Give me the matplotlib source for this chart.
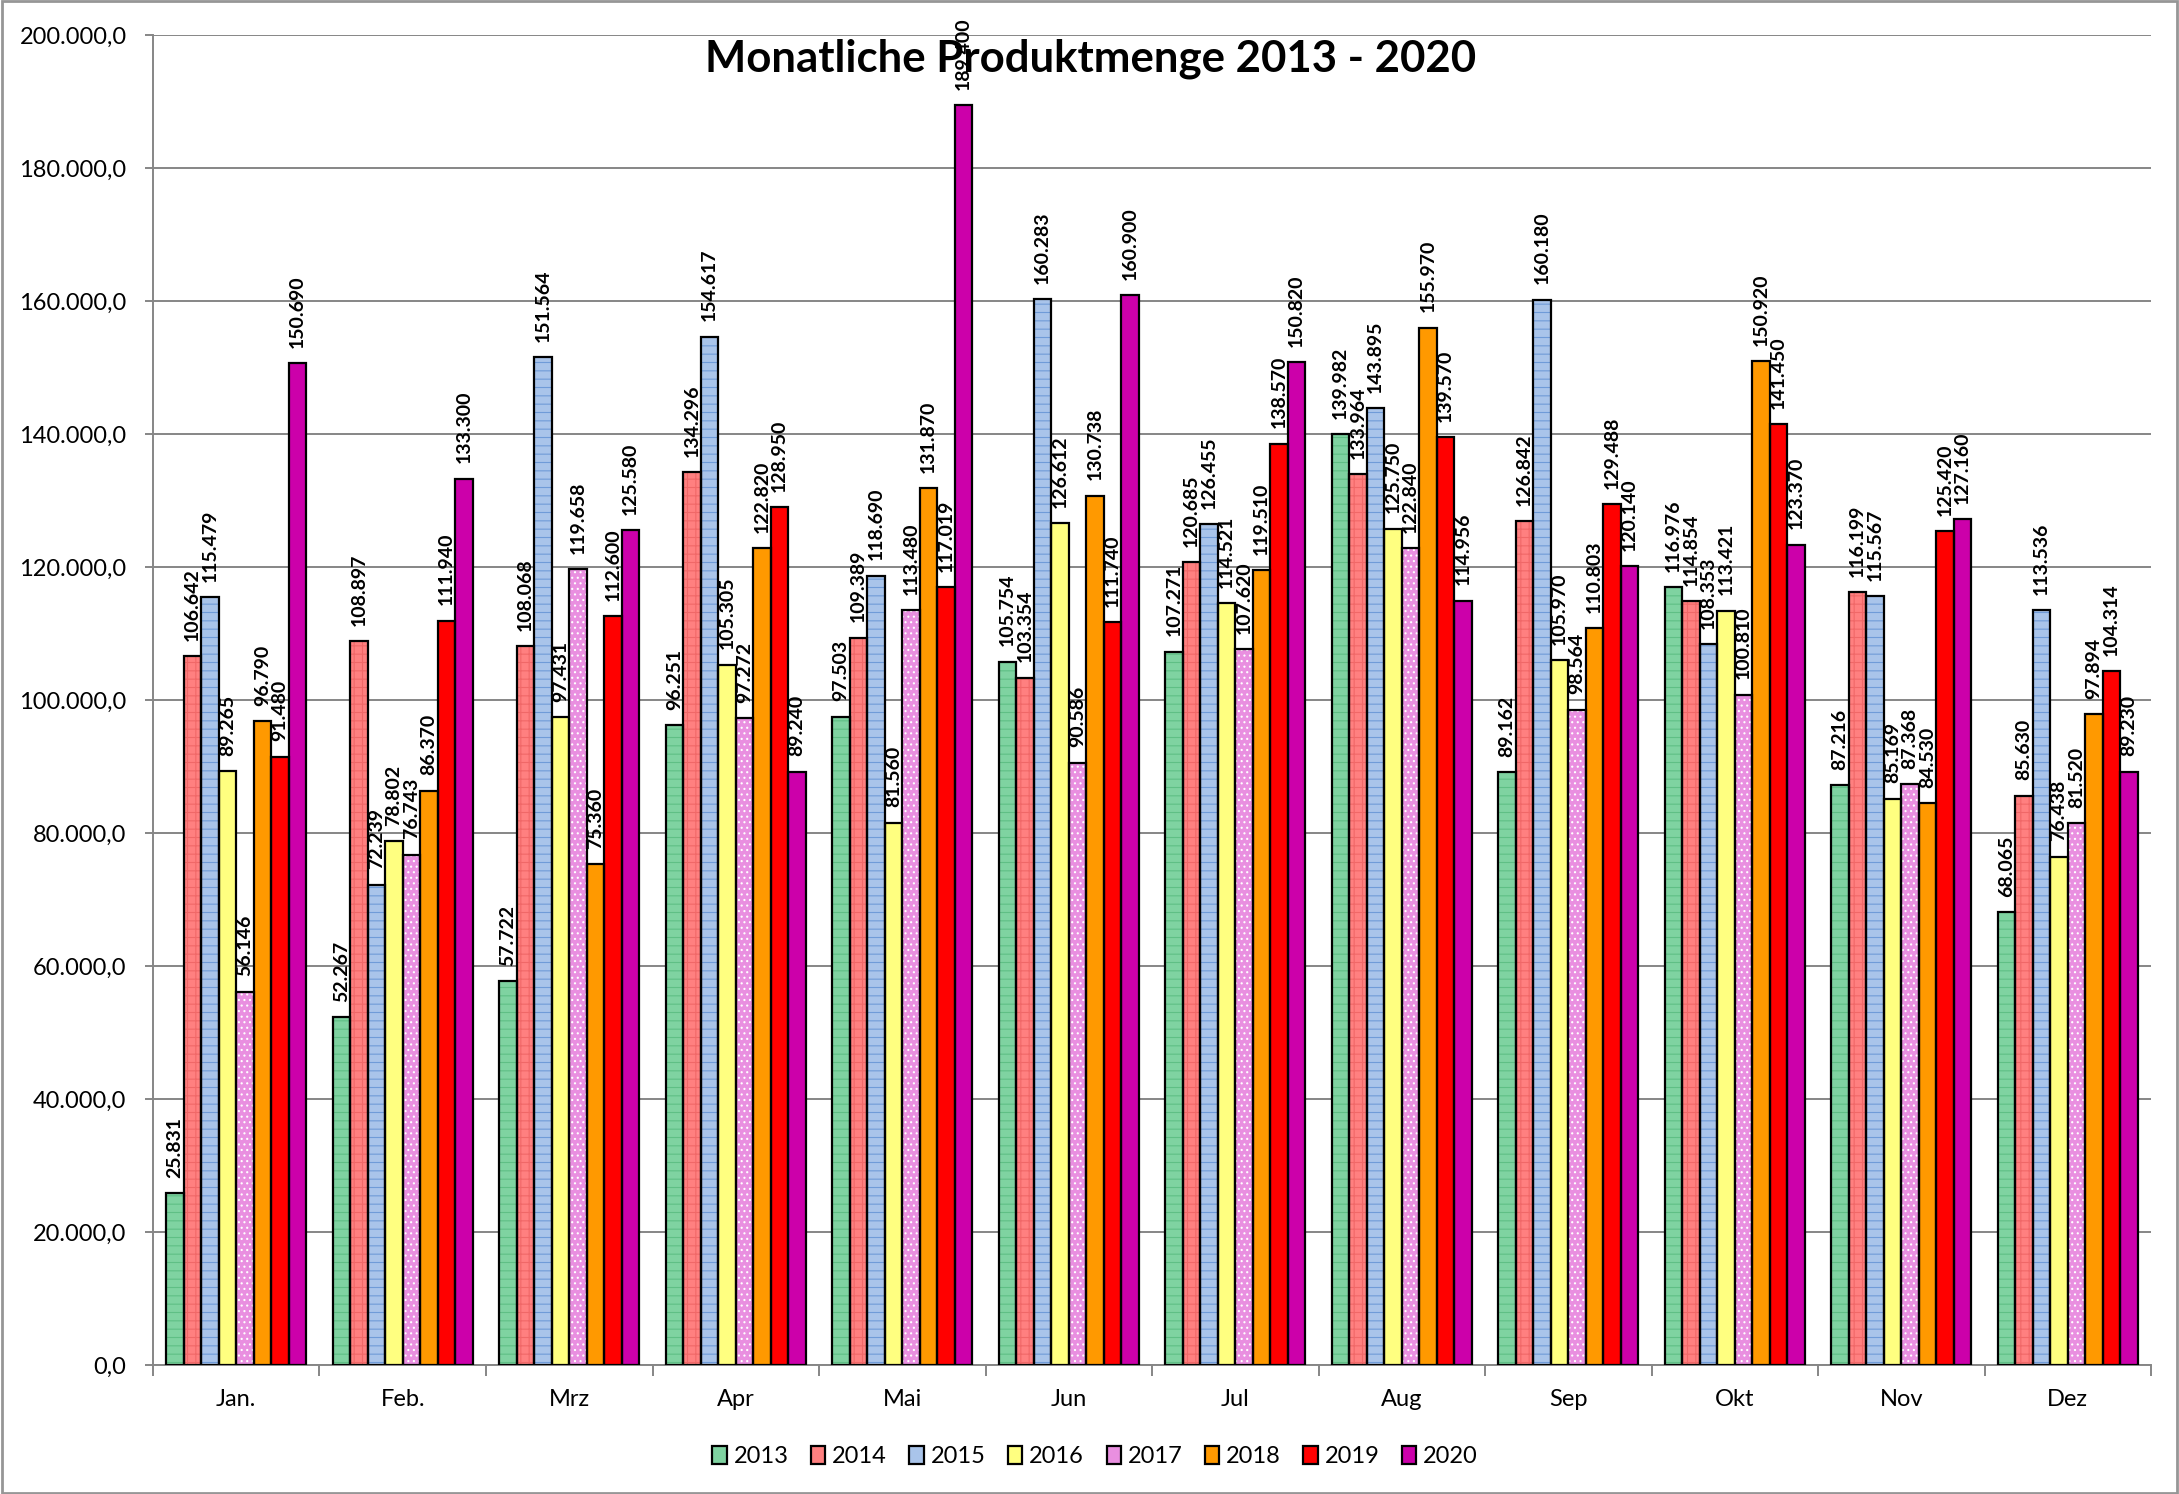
import numpy as np
import matplotlib.pyplot as plt
from matplotlib.patches import Patch, Rectangle
from matplotlib.ticker import FuncFormatter

plt.rcParams['font.family'] = ['Lato', 'DejaVu Sans']
plt.rcParams['hatch.linewidth'] = 0.8

# Monate und Jahre
months = ['Jan.', 'Feb.', 'Mrz', 'Apr', 'Mai', 'Jun', 'Jul', 'Aug', 'Sep', 'Okt', 'Nov', 'Dez']
years = ['2013', '2014', '2015', '2016', '2017', '2018', '2019', '2020']

# Werte je Jahr (Jan..Dez)
v2013 = [25831, 52267, 57722, 96251, 97503, 105754, 107271, 139982, 89162, 116976, 87216, 68065]
v2014 = [106642, 108897, 108068, 134296, 109389, 103354, 120685, 133964, 126842, 114854, 116199, 85630]
v2015 = [115479, 72239, 151564, 154617, 118690, 160283, 126455, 143895, 160180, 108353, 115567, 113536]
v2016 = [89265, 78802, 97431, 105305, 81560, 126612, 114521, 125750, 105970, 113421, 85169, 76438]
v2017 = [56146, 76743, 119658, 97272, 113480, 90586, 107620, 122840, 98564, 100810, 87368, 81520]
v2018 = [96790, 86370, 75360, 122820, 131870, 130738, 119510, 155970, 110803, 150920, 84530, 97894]
v2019 = [91480, 111940, 112600, 128950, 117019, 111740, 138570, 139570, 129488, 141450, 125420, 104314]
v2020 = [150690, 133300, 125580, 89240, 189400, 160900, 150820, 114956, 120140, 123370, 127160, 89230]

series = [v2013, v2014, v2015, v2016, v2017, v2018, v2019, v2020]

# Farben / Muster
face = ['#7fd3a1', '#ff8080', '#a9c4ea', '#ffff80', '#e98fe0', '#ff9900', '#ff0000', '#cc00aa']
hcol = ['#5fbf85', '#f06868', '#6f9bd8', '#ffff80', '#ffffff', '#ff9900', '#ff0000', '#cc00aa']
hatches = ['--', '++', '--', None, '...', None, None, None]


def de_fmt(v):
    return f"{int(v):,}".replace(",", ".")


fig = plt.figure(figsize=(21.79, 14.94), dpi=100)
ax = fig.add_axes([0.0702, 0.0863, 0.917, 0.8903])

x = np.arange(len(months))
w = 1 / 9.5
for i, vals in enumerate(series):
    xs = x + (i - 3.5) * w
    # Fuellung mit Muster
    ax.bar(xs, vals, width=w, color=face[i], edgecolor=hcol[i], hatch=hatches[i], linewidth=0, zorder=2)
    # schwarzer Rand
    ax.bar(xs, vals, width=w, facecolor='none', edgecolor='black', linewidth=1.6, zorder=3)
    for xx, v in zip(xs, vals):
        ax.text(xx, v + 2300, de_fmt(v), rotation=90, ha='center', va='bottom',
                fontsize=14, fontweight='bold', color='black', zorder=5)

ax.set_xlim(-0.5, len(months) - 0.5)
ax.set_ylim(0, 200000)
ax.set_yticks(np.arange(0, 200001, 20000))
ax.yaxis.set_major_formatter(FuncFormatter(lambda v, p: de_fmt(v) + ',0'))
ax.set_xticks(x)
ax.set_xticklabels(months)
ax.set_xticks(np.arange(-0.5, len(months), 1), minor=True)
ax.tick_params(axis='x', which='major', length=0, pad=17, labelsize=17)
ax.tick_params(axis='x', which='minor', length=8, width=1.4, color='#868686')
ax.tick_params(axis='y', length=6, width=1.4, color='#868686', pad=13, labelsize=17)

ax.grid(axis='y', color='#868686', linewidth=1.4)
ax.set_axisbelow(True)
for s in ['top', 'right']:
    ax.spines[s].set_visible(False)
ax.spines['left'].set_color('#868686')
ax.spines['left'].set_linewidth(1.4)
ax.spines['bottom'].set_color('#868686')
ax.spines['bottom'].set_linewidth(1.4)

fig.text(0.5007, 0.9605, 'Monatliche Produktmenge 2013 - 2020', ha='center', va='center',
         fontsize=31.5, fontweight='bold', zorder=10)

handles = [Patch(facecolor=face[i], edgecolor='black', linewidth=1.6) for i in range(len(years))]
fig.legend(handles, years, loc='center', bbox_to_anchor=(0.5026, 0.025), ncol=8, frameon=False,
           fontsize=17, handlelength=0.6, handleheight=0.8, handletextpad=0.3, columnspacing=0.95)

fig.patches.append(Rectangle((0.001, 0.001), 0.998, 0.998, transform=fig.transFigure,
                             fill=False, edgecolor='#969696', linewidth=2))

fig.savefig('out.png', dpi=100)
